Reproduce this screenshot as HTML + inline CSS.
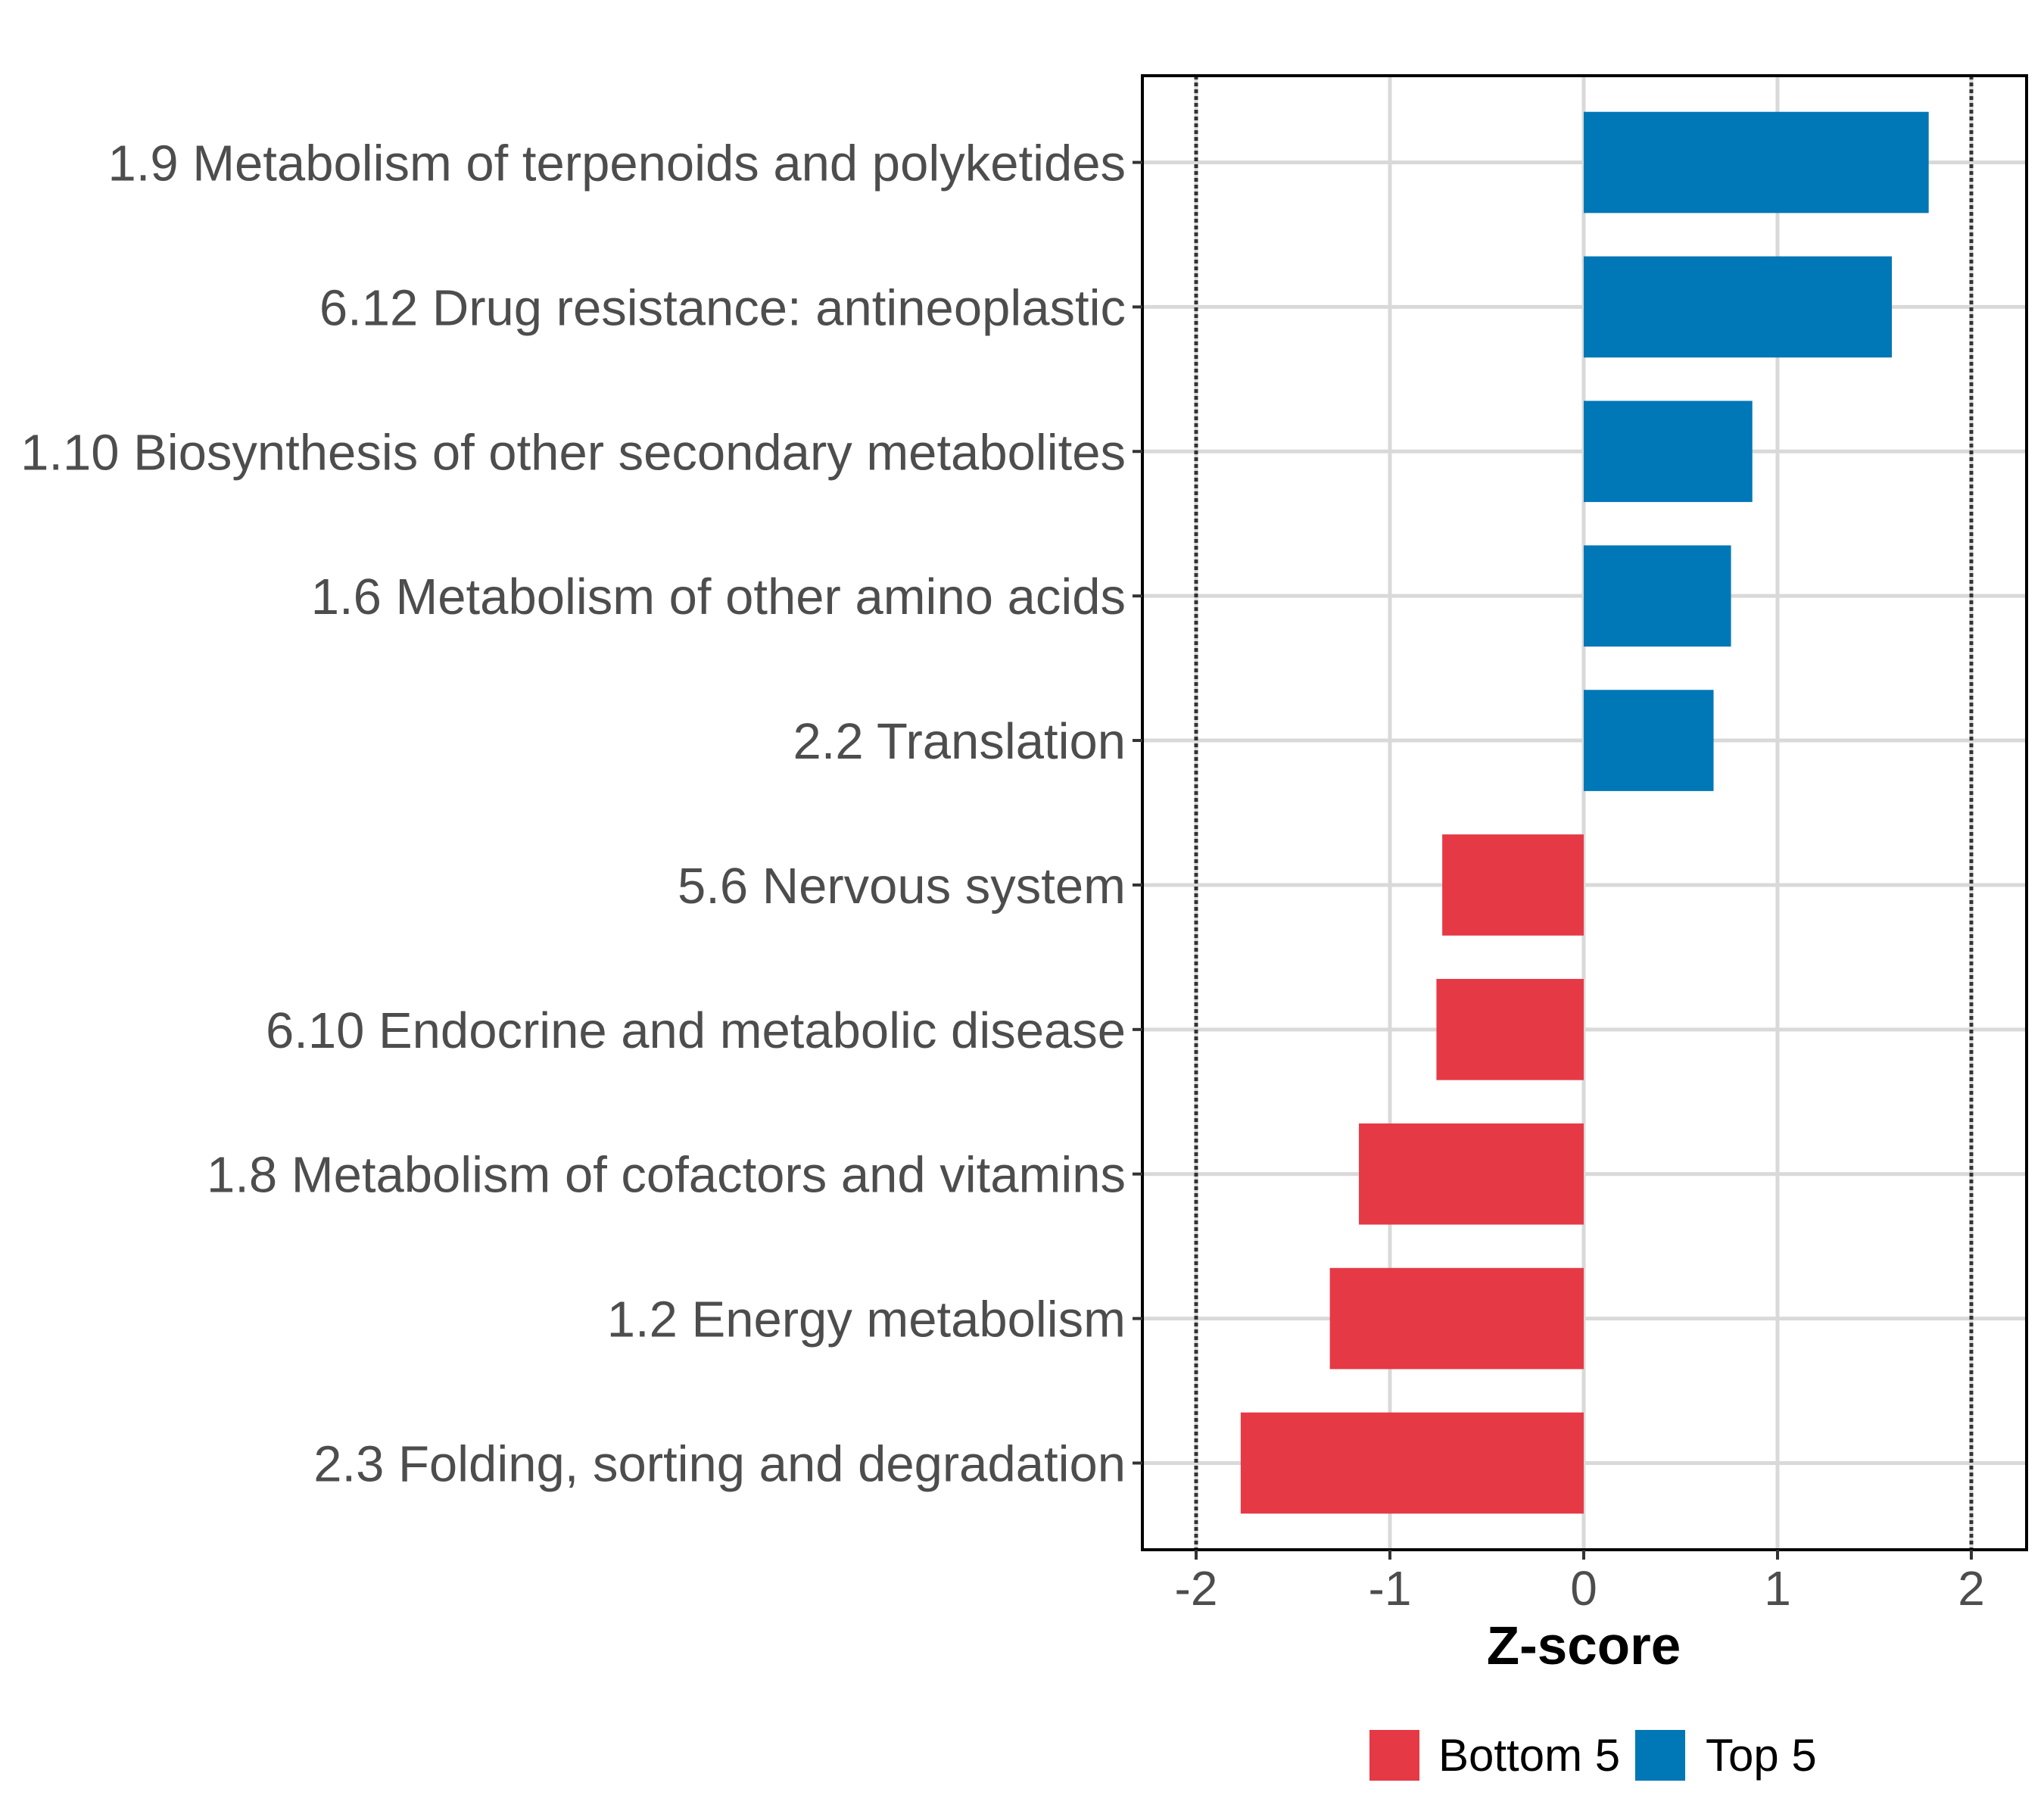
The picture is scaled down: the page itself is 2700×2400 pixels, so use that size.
<!DOCTYPE html>
<html><head><meta charset="utf-8"><style>body{margin:0;background:#fff}svg{display:block}</style></head>
<body>
<svg id="chart" width="2700" height="2400" viewBox="0 0 2700 2400" font-family="'Liberation Sans', Arial, sans-serif">
<rect width="2700" height="2400" fill="#fff"/>
<g id="grid"></g><g id="bars"></g><g id="ref"></g><g id="axes"></g>
<text x="2092" y="2198" text-anchor="middle" font-size="71" font-weight="bold" fill="#000">Z-score</text>
<g>
<rect x="1809" y="2285" width="66" height="67" fill="#E63946"/>
<text x="1900" y="2339" font-size="60" fill="#000">Bottom 5</text>
<rect x="2160" y="2285" width="66" height="67" fill="#0077B6"/>
<text x="2253" y="2339" font-size="60" fill="#000">Top 5</text>
</g>
</svg>
<script>
const categories=["1.9 Metabolism of terpenoids and polyketides","6.12 Drug resistance: antineoplastic","1.10 Biosynthesis of other secondary metabolites","1.6 Metabolism of other amino acids","2.2 Translation","5.6 Nervous system","6.10 Endocrine and metabolic disease","1.8 Metabolism of cofactors and vitamins","1.2 Energy metabolism","2.3 Folding, sorting and degradation"];
const values=[1.78,1.59,0.87,0.76,0.67,-0.73,-0.76,-1.16,-1.31,-1.77];
const groups=["Top 5","Top 5","Top 5","Top 5","Top 5","Bottom 5","Bottom 5","Bottom 5","Bottom 5","Bottom 5"];
const xTicks=[-2,-1,0,1,2];
const refLines=[-2,2];
const NS="http://www.w3.org/2000/svg";
const L=1509,R=2677,T=100,B=2047;
const x0=2092,unit=256;
const xs=v=>x0+v*unit;
const step=(B-T)/(categories.length+0.2);
const ys=i=>T+step*(0.6+i);
function mk(tag,attrs,parent){const e=document.createElementNS(NS,tag);for(const k in attrs)e.setAttribute(k,attrs[k]);parent.appendChild(e);return e;}
const grid=document.getElementById('grid'),bars=document.getElementById('bars'),ref=document.getElementById('ref'),axes=document.getElementById('axes');
xTicks.forEach(t=>{const l=mk('line',{x1:xs(t),x2:xs(t),y1:T,y2:B,stroke:'#d9d9d9','stroke-width':5},grid);

});
categories.forEach((c,i)=>{const l=mk('line',{x1:L,x2:R,y1:ys(i),y2:ys(i),stroke:'#d9d9d9','stroke-width':5},grid);

});
const bh=step*0.7;
values.forEach((v,i)=>{const a=Math.min(xs(0),xs(v)),w=Math.abs(xs(v)-xs(0));
const r=mk('rect',{x:a,y:ys(i)-bh/2,width:w,height:bh,fill:groups[i]==="Top 5"?"#0077B6":"#E63946"},bars);

});
refLines.forEach(t=>{const l=mk('line',{x1:xs(t),x2:xs(t),y1:T,y2:B,stroke:'#333','stroke-width':5,'stroke-dasharray':'5 4'},ref);

});
const border=mk('rect',{x:L,y:T,width:R-L,height:B-T,fill:'none',stroke:'#000','stroke-width':4},axes);


xTicks.forEach(t=>{const k=mk('line',{x1:xs(t),x2:xs(t),y1:B,y2:B+13,stroke:'#333','stroke-width':4},axes);


const tx=mk('text',{x:xs(t),y:2120,'text-anchor':'middle','font-size':64,fill:'#4d4d4d'},axes);
tx.textContent=String(t);

});
categories.forEach((c,i)=>{const k=mk('line',{x1:L-13,x2:L,y1:ys(i),y2:ys(i),stroke:'#333','stroke-width':4},axes);


const tx=mk('text',{x:1487,y:ys(i)+24,'text-anchor':'end','font-size':67,fill:'#4d4d4d'},axes);
tx.textContent=c;

});
</script>
</body></html>
